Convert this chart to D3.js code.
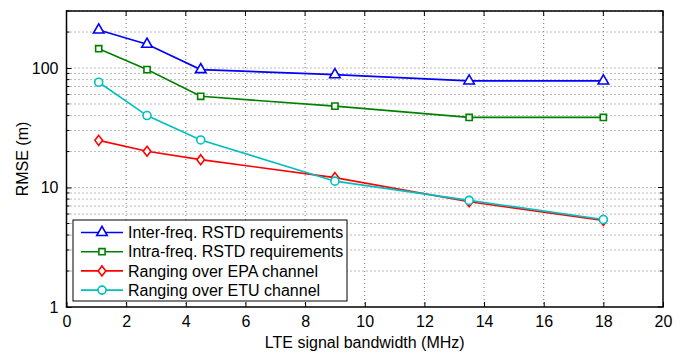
<!DOCTYPE html>
<html>
<head>
<meta charset="utf-8">
<script src="https://cdn.jsdelivr.net/npm/d3@7"></script>
<style>
  body { margin: 0; background: #fff; }
  svg text { font-family: "Liberation Sans", Arial, sans-serif; fill: #000; }
</style>
</head>
<body>
<svg id="chart"></svg>
<script>
// data
let bandwidth = [1.08, 2.7, 4.5, 9, 13.5, 18];
let interFreq = [208, 158, 97, 88, 78, 78];
let intraFreq = [145, 97, 58, 48, 38.6, 38.6];
let rangingEPA = [24.8, 20.1, 17.1, 12.1, 7.6, 5.3];
let rangingETU = [76, 40, 25, 11.3, 7.8, 5.4];
let seriesNames = ["Inter-freq. RSTD requirements", "Intra-freq. RSTD requirements",
    "Ranging over EPA channel", "Ranging over ETU channel"];
let xTicks = [0, 2, 4, 6, 8, 10, 12, 14, 16, 18, 20];
let yTicks = [1, 10, 100];

let series = [
    {name: seriesNames[0], values: interFreq, color: "#0000ff", marker: "triangle"},
    {name: seriesNames[1], values: intraFreq, color: "#008000", marker: "square"},
    {name: seriesNames[2], values: rangingEPA, color: "#ff0000", marker: "diamond"},
    {name: seriesNames[3], values: rangingETU, color: "#00bfbf", marker: "circle"}
];

let width = 685, height = 352;
let margin = {top: 11, right: 22, bottom: 45, left: 66.5};
let w = width - margin.left - margin.right;
let h = height - margin.top - margin.bottom;

let svg = d3.select("#chart").attr("width", width).attr("height", height);
let g = svg.append("g").attr("transform", "translate(" + margin.left + "," + margin.top + ")");

let x = d3.scaleLinear().domain([0, 20]).range([0, w]);
let y = d3.scaleLog().domain([1, 300]).range([h, 0]);

// minor log ticks
let minorY = [];
[1, 10, 100].forEach(function(d) {
    for (let k = 1; k < 10; k++) {
        let v = d * k;
        if (v <= 300) minorY.push(v);
    }
});

// grid
g.append("g").selectAll("line").data(xTicks.slice(1, -1)).enter().append("line")
    .attr("x1", d => x(d)).attr("x2", d => x(d)).attr("y1", 0).attr("y2", h)
    .attr("stroke", "#555").attr("stroke-width", 0.8).attr("stroke-dasharray", "1,3");
g.append("g").selectAll("line").data(minorY.filter(d => d > 1)).enter().append("line")
    .attr("x1", 0).attr("x2", w).attr("y1", d => y(d)).attr("y2", d => y(d))
    .attr("stroke", "#555").attr("stroke-width", 0.8).attr("stroke-dasharray", "1,3");

// axes
let xAxis = d3.axisBottom(x).tickValues(xTicks).tickSize(-5).tickPadding(9).tickFormat(d3.format("d"));
let yAxis = d3.axisLeft(y).tickValues(yTicks).tickSize(-5).tickPadding(8).tickFormat(d3.format("d"));

let gx = g.append("g").attr("transform", "translate(0," + h + ")").call(xAxis);
let gy = g.append("g").call(yAxis);

// top and right ticks
g.append("g").selectAll("line").data(xTicks).enter().append("line")
    .attr("x1", d => x(d)).attr("x2", d => x(d)).attr("y1", 0).attr("y2", 5).attr("stroke", "#000");
g.append("g").selectAll("line").data(minorY).enter().append("line")
    .attr("x1", w).attr("x2", d => yTicks.indexOf(d) >= 0 ? w - 5 : w - 3)
    .attr("y1", d => y(d)).attr("y2", d => y(d)).attr("stroke", "#000");
g.append("g").selectAll("line").data(minorY.filter(d => yTicks.indexOf(d) < 0)).enter().append("line")
    .attr("x1", 0).attr("x2", 3)
    .attr("y1", d => y(d)).attr("y2", d => y(d)).attr("stroke", "#000");

[gx, gy].forEach(function(a) {
    a.select(".domain").remove();
    a.selectAll("text").style("font-size", "16px");
    a.selectAll(".tick line").attr("stroke", "#000");
});

g.append("rect").attr("width", w).attr("height", h)
    .attr("fill", "none").attr("stroke", "#000").attr("stroke-width", 1.5);

// markers
function drawMarker(sel, type, color) {
    if (type === "circle") {
        sel.append("circle").attr("r", 4);
    } else if (type === "diamond") {
        sel.append("path").attr("d", "M0,-5L3.8,0L0,5L-3.8,0Z");
    } else {
        let sym = type === "triangle" ? d3.symbolTriangle : d3.symbolSquare;
        let size = type === "triangle" ? 48 : 38;
        sel.append("path").attr("d", d3.symbol().type(sym).size(size));
    }
    sel.selectAll("*").attr("fill", "#fff").attr("stroke", color).attr("stroke-width", 1.6);
}

let line = d3.line().x((d, i) => x(bandwidth[i])).y(d => y(d));

series.forEach(function(s) {
    g.append("path").datum(s.values).attr("d", line)
        .attr("fill", "none").attr("stroke", s.color).attr("stroke-width", 1.6);
    g.append("g").selectAll("g").data(s.values).enter().append("g")
        .attr("transform", (d, i) => "translate(" + x(bandwidth[i]) + "," + y(d) + ")")
        .each(function() { drawMarker(d3.select(this), s.marker, s.color); });
});

// legend
let legend = g.append("g").attr("transform", "translate(" + (73 - margin.left) + "," + (220 - margin.top) + ")");
legend.append("rect").attr("width", 274).attr("height", 81)
    .attr("fill", "#fff").attr("stroke", "#000").attr("stroke-width", 1);
series.forEach(function(s, i) {
    let row = legend.append("g").attr("transform", "translate(0," + (12.5 + i * 19.2) + ")");
    row.append("line").attr("x1", 8).attr("x2", 50).attr("stroke", s.color).attr("stroke-width", 1.6);
    let m = row.append("g").attr("transform", "translate(29,0)");
    drawMarker(m, s.marker, s.color);
    row.append("text").attr("x", 55).attr("dy", "0.36em").style("font-size", "16px").text(s.name);
});

// axis labels
svg.append("text").attr("x", margin.left + w / 2).attr("y", 348)
    .attr("text-anchor", "middle").style("font-size", "16px").text("LTE signal bandwidth (MHz)");
svg.append("text").attr("transform", "translate(28," + (margin.top + h / 2) + ") rotate(-90)")
    .attr("text-anchor", "middle").style("font-size", "16px").text("RMSE (m)");
</script>
</body>
</html>
